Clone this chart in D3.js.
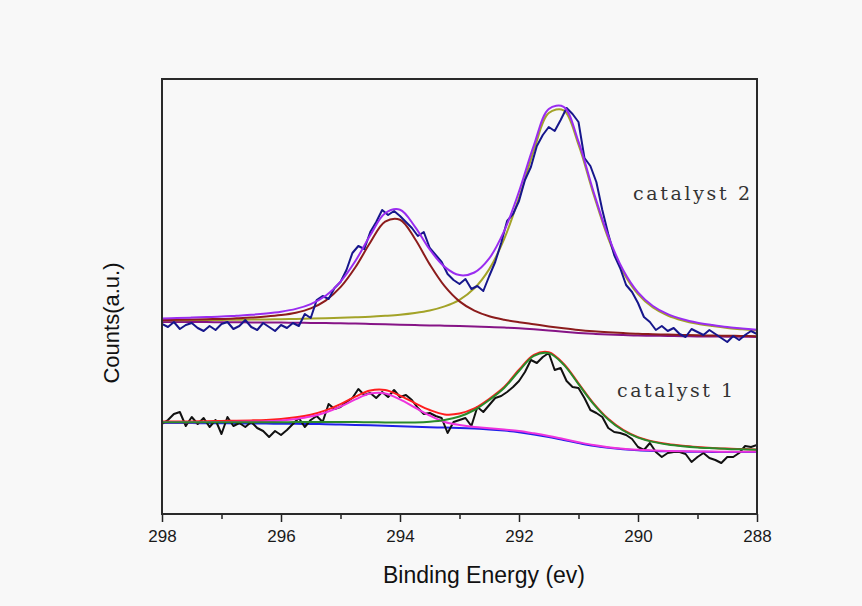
<!DOCTYPE html>
<html lang="en">
<head>
<meta charset="utf-8">
<title>C 1s spectra, catalyst 1 and 2</title>
<script src="https://cdn.jsdelivr.net/npm/d3@7"></script>
<style>
  body { margin: 0; background: #f8f8f8; }
  svg { display: block; }
  .tick line { stroke: #222; stroke-width: 1.5px; }
  .axis-title { font-family: "Liberation Sans", Arial, sans-serif; fill: #111; }
  .series-label { font-family: "DejaVu Serif", "Liberation Serif", serif; font-size: 19px; fill: #333; }
  .fit, .raw { fill: none; stroke-width: 2px; stroke-linejoin: round; }
</style>
</head>
<body>
<svg id="vis" width="862" height="606"></svg>
<script>
// energy grid of the fitted curves (eV)
var fitEnergy = [298, 297.75, 297.5, 297.25, 297, 296.75, 296.5, 296.25, 296, 295.75, 295.5, 295.25, 295,
  294.75, 294.5, 294.25, 294, 293.75, 293.5, 293.25, 293, 292.75, 292.5, 292.25, 292, 291.75, 291.5,
  291.25, 291, 290.75, 290.5, 290.25, 290, 289.75, 289.5, 289.25, 289, 288.75, 288.5, 288.25, 288];

// raw spectra are sampled every 0.1 eV from 298 down to 288
var rawStart = 298, rawStep = 0.1;

// catalyst 2 (upper trace)
var cat2Counts = [190,187,192,185,189,191,186,183,188,184,
  190,192,185,188,194,187,184,191,187,183,
  189,186,191,188,200,196,214,218,215,226,
  232,244,261,268,265,282,292,304,299,303,
  298,292,286,278,282,266,259,252,240,234,
  230,235,225,228,223,238,252,271,293,300,
  313,334,347,368,379,387,383,394,406,400,
  392,356,348,332,304,280,259,246,229,222,
  211,197,192,184,188,183,186,180,177,185,
  182,179,184,180,176,172,178,174,179,183,
  180];
var cat2Background = [192.0,192.0,191.9,191.9,191.8,191.7,191.6,191.5,191.4,191.3,191.1,190.9,190.7,190.4,190.1,
  189.7,189.3,188.9,188.6,188.3,187.9,187.5,187.0,186.4,185.7,184.7,183.5,182.2,181.1,180.2,179.5,179.0,
  178.5,178.3,178.0,177.8,177.6,177.5,177.3,177.2,177.0];
var cat2Peak1 = [193.9,194.2,194.4,194.8,195.1,195.7,196.4,197.4,198.9,201.3,205.6,213.4,226.8,246.7,271.5,
  292.3,294.3,275.3,249.6,227.8,212.6,203.3,197.7,194.3,191.8,189.7,187.6,185.7,184.0,182.7,181.7,180.9,
  180.2,179.8,179.4,179.0,178.7,178.5,178.2,178.1,177.8];
var cat2Peak2 = [193.7,193.8,193.9,194.0,194.1,194.3,194.4,194.6,194.8,195.1,195.4,195.7,196.2,196.7,197.3,
  198.2,199.3,201.0,203.5,207.6,214.2,225.7,244.9,274.9,316.3,363.7,400.9,403.7,369.4,320.3,275.6,242.1,
  219.9,206.5,198.4,193.5,190.2,187.9,186.0,184.7,183.4];
var cat2Envelope = [195.6,196.0,196.4,196.9,197.4,198.3,199.2,200.5,202.3,205.1,209.9,218.2,232.3,253.0,278.7,
  300.8,304.3,287.4,264.5,247.1,238.9,241.5,255.6,282.8,322.4,368.7,405.0,407.2,372.3,322.8,277.8,244.0,
  221.6,208.0,199.8,194.7,191.3,188.9,186.9,185.6,184.2];

// catalyst 1 (lower trace)
var cat1Counts = [90,94,100,102,88,97,90,96,87,94,
  80,97,88,91,87,92,86,83,77,83,
  79,84,90,96,87,94,98,92,110,105,
  107,112,116,125,119,121,116,122,117,124,
  117,119,114,106,100,101,98,96,81,92,
  94,96,88,107,102,109,116,118,122,127,
  133,142,154,151,157,161,144,146,133,127,
  126,116,104,101,97,86,82,81,79,75,
  67,64,71,62,57,61,62,62,60,52,
  57,61,56,54,51,57,57,61,68,67,
  69];
var cat1Background = [91.0,90.9,90.9,90.8,90.7,90.6,90.5,90.4,90.3,90.2,90.0,89.8,89.5,89.1,88.7,88.2,87.7,
  87.2,86.8,86.4,86.0,85.4,84.6,83.4,81.8,79.6,77.0,74.0,71.0,68.2,66.2,64.7,63.7,63.1,62.7,62.4,62.2,
  62.1,62.0,62.0,62.0];
var cat1Peak1 = [91.7,91.7,91.8,91.9,92.0,92.2,92.4,92.8,93.6,95.0,97.4,101.5,107.4,114.6,120.4,120.6,114.6,
  106.5,98.5,92.0,89.0,87.0,85.8,84.4,83.0,80.7,78.0,74.9,71.8,68.9,66.8,65.3,64.2,63.6,63.1,62.8,62.6,
  62.4,62.3,62.3,62.3];
var cat1Peak2 = [91.7,91.7,91.7,91.7,91.7,91.7,91.7,91.7,91.8,91.9,91.9,91.9,91.9,91.9,91.8,91.6,91.5,91.6,
  92.3,94.0,97.5,104.0,114.0,126.0,143.0,158.1,160.9,149.4,129.9,110.2,94.6,83.5,76.4,72.1,69.5,67.8,
  66.6,65.8,65.1,64.7,64.3];
var cat1Envelope = [92.4,92.5,92.6,92.8,93.0,93.3,93.6,94.1,95.1,96.7,99.3,103.6,109.8,117.4,123.5,124.0,
  118.4,110.9,104.0,99.6,100.5,105.6,115.2,127.0,144.2,159.2,161.9,150.3,130.7,110.9,95.2,84.1,76.9,72.6,
  69.9,68.2,67.0,66.1,65.4,65.0,64.6];

var majorTicks = [298, 296, 294, 292, 290, 288];
var minorTicks = [297, 295, 293, 291, 289];

var svg = d3.select("#vis");
var plotLeft = 162, plotRight = 757, plotTop = 79, plotBottom = 514;

var x = d3.scaleLinear().domain([298, 288]).range([plotLeft, plotRight]);
var y = d3.scaleLinear().domain([0, 435]).range([plotBottom, plotTop]);

svg.append("rect").attr("width", 862).attr("height", 606).attr("fill", "#f8f8f8");

svg.append("clipPath").attr("id", "plot-clip")
  .append("rect").attr("x", plotLeft).attr("y", plotTop)
  .attr("width", plotRight - plotLeft).attr("height", plotBottom - plotTop);

var plot = svg.append("g").attr("clip-path", "url(#plot-clip)");

var fitLine = d3.line()
  .x(function(d, i) { return x(fitEnergy[i]); })
  .y(function(d) { return y(d); })
  .curve(d3.curveCatmullRom);

var rawLine = d3.line()
  .x(function(d, i) { return x(rawStart - rawStep * i); })
  .y(function(d) { return y(d); });

function drawFit(values, color) {
  plot.append("path").attr("class", "fit").attr("d", fitLine(values)).attr("stroke", color);
}
function drawRaw(values, color) {
  plot.append("path").attr("class", "raw").attr("d", rawLine(values)).attr("stroke", color);
}

// catalyst 2
drawFit(cat2Background, "#861486");
drawFit(cat2Peak2, "#a3a328");
drawFit(cat2Peak1, "#8c1c1c");
drawRaw(cat2Counts, "#16168c");
drawFit(cat2Envelope, "#9a2cf0");

// catalyst 1 : envelope sits under the green component
drawFit(cat1Background, "#2020e8");
drawRaw(cat1Counts, "#111111");
drawFit(cat1Envelope, "#ff1e1e");
drawFit(cat1Peak1, "#ee33dd");
drawFit(cat1Peak2, "#2a8a2a");

// bottom axis: major ticks with labels, minor ticks without
svg.append("g")
  .attr("transform", "translate(0," + plotBottom + ")")
  .call(d3.axisBottom(x).tickValues(majorTicks).tickSize(8).tickPadding(8).tickFormat(d3.format("d")))
  .call(function(g) {
    g.select(".domain").remove();
    g.selectAll(".tick text")
      .style("font-family", "'Liberation Sans', Arial, sans-serif")
      .style("font-size", "17px")
      .attr("fill", "#1a1a1a");
  });

svg.append("g")
  .attr("transform", "translate(0," + plotBottom + ")")
  .call(d3.axisBottom(x).tickValues(minorTicks).tickSize(5).tickFormat(""))
  .call(function(g) { g.select(".domain").remove(); });

// frame
svg.append("rect")
  .attr("x", plotLeft).attr("y", plotTop)
  .attr("width", plotRight - plotLeft).attr("height", plotBottom - plotTop)
  .attr("fill", "none").attr("stroke", "#2a2a2a").attr("stroke-width", 2);

// titles
svg.append("text").attr("class", "axis-title")
  .attr("x", 484).attr("y", 583)
  .attr("text-anchor", "middle").style("font-size", "23px")
  .text("Binding Energy (ev)");

svg.append("text").attr("class", "axis-title")
  .attr("transform", "translate(119,323) rotate(-90)")
  .attr("text-anchor", "middle").style("font-size", "22px")
  .text("Counts(a.u.)");

svg.append("text").attr("class", "series-label")
  .attr("x", 633).attr("y", 200)
  .attr("textLength", 117).attr("lengthAdjust", "spacing")
  .text("catalyst 2");

svg.append("text").attr("class", "series-label")
  .attr("x", 617).attr("y", 397)
  .attr("textLength", 116).attr("lengthAdjust", "spacing")
  .text("catalyst 1");
</script>
</body>
</html>
